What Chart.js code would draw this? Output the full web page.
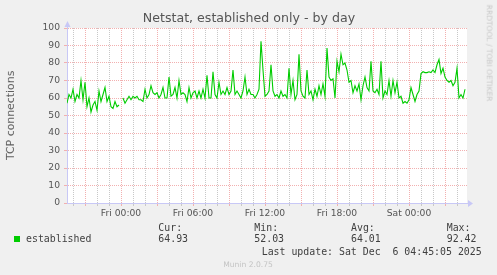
<!DOCTYPE html>
<html>
<head>
<meta charset="utf-8">
<script src="https://cdn.jsdelivr.net/npm/chart.js@4.4.1/dist/chart.umd.min.js"></script>
<style>
  html, body { margin:0; padding:0; background:#f0f0f0; }
  #wrap { position:relative; width:497px; height:275px; overflow:hidden; background:#f0f0f0; }
  #c { position:absolute; left:0; top:0; }
  .t { position:absolute; line-height:1; white-space:pre; transform:translateY(-50%); font-weight:normal; }
  .sans { font-family:"DejaVu Sans", sans-serif; }
  .mono { font-family:"DejaVu Sans Mono", monospace; font-size:9.9px; color:#404040; }
  #ytitle { position:absolute; left:5px; top:68px; height:94px; width:12px; writing-mode:vertical-rl; transform:rotate(180deg); text-align:center; font-size:10.9px; line-height:12px; color:#5e5e5e; font-weight:normal; white-space:nowrap; }
</style>
</head>
<body>
<div id="wrap">
  <canvas id="c" width="497" height="275"></canvas>
  <div class="t sans" style="left:249px; top:18px; transform:translate(-50%,-50%); font-size:12.6px; color:#555;">Netstat, established only - by day</div>
  <div id="ytitle" class="sans">TCP connections</div>
  <div class="t sans" style="left:489px; top:53px; transform:translate(-50%,-50%) rotate(90deg); font-size:7.5px; color:#c8c8c8;">RRDTOOL / TOBI OETIKER</div>
  <div class="t mono" style="left:158.3px; top:228px;">Cur:</div>
  <div class="t mono" style="left:254.3px; top:228px;">Min:</div>
  <div class="t mono" style="left:351px; top:228px;">Avg:</div>
  <div class="t mono" style="left:446.7px; top:228px;">Max:</div>
  <div style="position:absolute; left:14px; top:236px; width:6px; height:6px; background:#00cc00;"></div>
  <div class="t mono" id="lgName" style="left:26px; top:239px;"></div>
  <div class="t mono" id="lgCur" style="left:158.3px; top:239px;"></div>
  <div class="t mono" id="lgMin" style="left:254.3px; top:239px;"></div>
  <div class="t mono" id="lgAvg" style="left:351px; top:239px;"></div>
  <div class="t mono" id="lgMax" style="left:446.7px; top:239px;"></div>
  <div class="t mono" style="left:261.7px; top:251.5px;">Last update: Sat Dec  6 04:45:05 2025</div>
  <div class="t sans" style="left:248px; top:264.5px; transform:translate(-50%,-50%); font-size:7.6px; color:#c4c4c4;">Munin 2.0.75</div>
</div>
<script>
// ---- data ----
const seriesName = "established";
const startHour = -4.5;          // hours relative to Fri 00:00 (Thu 19:30)
const endHour = 28.8333;         // Sat 04:50
const sampleStepHours = 1 / 6;   // 10-minute samples
const established = [
  57, 62, 60, 65, 58, 62, 60, 70, 59, 69,
  55, 60, 52, 56, 58, 53, 64, 58, 62, 66,
  58, 61, 55, 54, 58, 55, 56, null, 60, 57,
  59, 61, 59, 61, 60, 61, 59, 59, 58, 65,
  60, 62, 67, 63, 62, 63, 60, 62, 66, 60,
  60, 72, 61, 62, 66, 60, 70, 62, 63, 62,
  58, 66, 60, 63, 64, 60, 64, 60, 65, 60,
  73, 60, 60, 75, 62, 60, 69, 62, 64, 62,
  66, 62, 64, 76, 62, 64, 62, 60, 64, 72,
  62, 65, 62, 62, 60, 62, 65, 92.4, 76, 61,
  62, 64, 79, 64, 61, 62, 60, 64, 61, 62,
  60, 77, 62, 70, 59, 62, 85, 64, 61, 60,
  76, 62, 64, 59, 65, 61, 67, 62, 68, 61,
  88.5, 72, 70, 71, 60, 81, 75, 85, 79, 80,
  76, 69, 70, 63, 67, 64, 68, 59, 67, 72,
  66, 64, 81, 64, 63, 65, 62, 81, 60, 64,
  62, 70, 61, 70, 63, 69, 60, 61, 57, 58,
  57, 59, 66, 62, 58, 62, 64, 74, 75, 74.5,
  74.5, 75, 74.5, 76, 74.5, 79, 82, 74, 77, 72,
  70, 69, 70, 67, 69, 77, 60, 62, 60, 65
];
const legendStats = { cur: "64.93", min: "52.03", avg: "64.01", max: "92.42" };
const xLabels = { 0: "Fri 00:00", 6: "Fri 06:00", 12: "Fri 12:00", 18: "Fri 18:00", 24: "Sat 00:00" };
const yLabelStep = 10;

document.getElementById('lgName').textContent = seriesName;
document.getElementById('lgCur').textContent = legendStats.cur;
document.getElementById('lgMin').textContent = legendStats.min;
document.getElementById('lgAvg').textContent = legendStats.avg;
document.getElementById('lgMax').textContent = legendStats.max;

const points = established.map((v, i) => ({ x: startHour + i * sampleStepHours, y: v }));

const RED = '#f2b0b0';
const GRAY = '#c8c8c8';
const AXIS = '#c8c8f6';

const bgPlugin = {
  id: 'bg',
  beforeDraw(chart) {
    const a = chart.chartArea, ctx = chart.ctx;
    ctx.save();
    ctx.fillStyle = '#ffffff';
    ctx.fillRect(a.left, a.top, a.right - a.left, a.bottom - a.top);
    ctx.restore();
  },
  afterDraw(chart) {
    const a = chart.chartArea, ctx = chart.ctx;
    ctx.save();
    ctx.fillStyle = AXIS;
    ctx.strokeStyle = AXIS;
    ctx.lineWidth = 1;
    ctx.beginPath();
    ctx.moveTo(a.right, a.bottom + 0.5); ctx.lineTo(a.right + 2, a.bottom + 0.5);
    ctx.moveTo(a.left + 0.5, a.top); ctx.lineTo(a.left + 0.5, a.top - 2);
    ctx.stroke();
    ctx.beginPath();
    ctx.moveTo(a.right + 1, a.bottom - 3);
    ctx.lineTo(a.right + 6, a.bottom + 0.5);
    ctx.lineTo(a.right + 1, a.bottom + 4);
    ctx.closePath(); ctx.fill();
    ctx.beginPath();
    ctx.moveTo(a.left - 2.5, a.top - 1);
    ctx.lineTo(a.left + 0.5, a.top - 7);
    ctx.lineTo(a.left + 3.5, a.top - 1);
    ctx.closePath(); ctx.fill();
    ctx.restore();
  }
};

new Chart(document.getElementById('c'), {
  type: 'line',
  data: {
    datasets: [{
      label: seriesName,
      data: points,
      borderColor: '#00cc00',
      borderWidth: 1.1,
      pointRadius: 0,
      tension: 0,
      spanGaps: false,
      fill: false
    }]
  },
  options: {
    responsive: false,
    devicePixelRatio: 1,
    animation: false,
    layout: { padding: { left: 0, top: 28, right: 30, bottom: 0 } },
    plugins: { legend: { display: false }, title: { display: false }, tooltip: { enabled: false } },
    scales: {
      x: {
        type: 'linear',
        min: startHour,
        max: endHour,
        afterBuildTicks(scale) {
          const t = [];
          for (let h = Math.ceil(startHour); h <= Math.floor(endHour); h++) t.push({ value: h });
          scale.ticks = t;
        },
        afterFit(scale) { scale.height = 72; },
        ticks: {
          autoSkip: false, maxRotation: 0, minRotation: 0, padding: 2,
          color: '#555',
          font: { family: 'DejaVu Sans', size: 9.2 },
          callback: (v) => (xLabels[v] !== undefined ? xLabels[v] : '')
        },
        grid: {
          color: (ctx) => (ctx.tick && ctx.tick.value % 3 === 0 ? RED : GRAY),
          tickColor: (ctx) => (ctx.tick && ctx.tick.value % 3 === 0 ? RED : GRAY),
          lineWidth: 1,
          drawTicks: true,
          tickLength: 3
        },
        border: { display: true, color: AXIS, width: 1, dash: [1, 1] }
      },
      y: {
        min: 0,
        max: 100,
        afterFit(scale) { scale.width = 67; },
        ticks: {
          stepSize: 5, padding: 4,
          color: '#555',
          font: { family: 'DejaVu Sans', size: 9.2 },
          callback: (v) => (v % yLabelStep === 0 ? String(v) : '')
        },
        grid: {
          color: (ctx) => (ctx.tick && ctx.tick.value % 10 === 0 ? RED : GRAY),
          tickColor: (ctx) => (ctx.tick && ctx.tick.value % 10 === 0 ? RED : GRAY),
          lineWidth: 1,
          drawTicks: true,
          tickLength: 3
        },
        border: { display: true, color: AXIS, width: 1, dash: [1, 1] }
      }
    }
  },
  plugins: [bgPlugin]
});
</script>
</body>
</html>
